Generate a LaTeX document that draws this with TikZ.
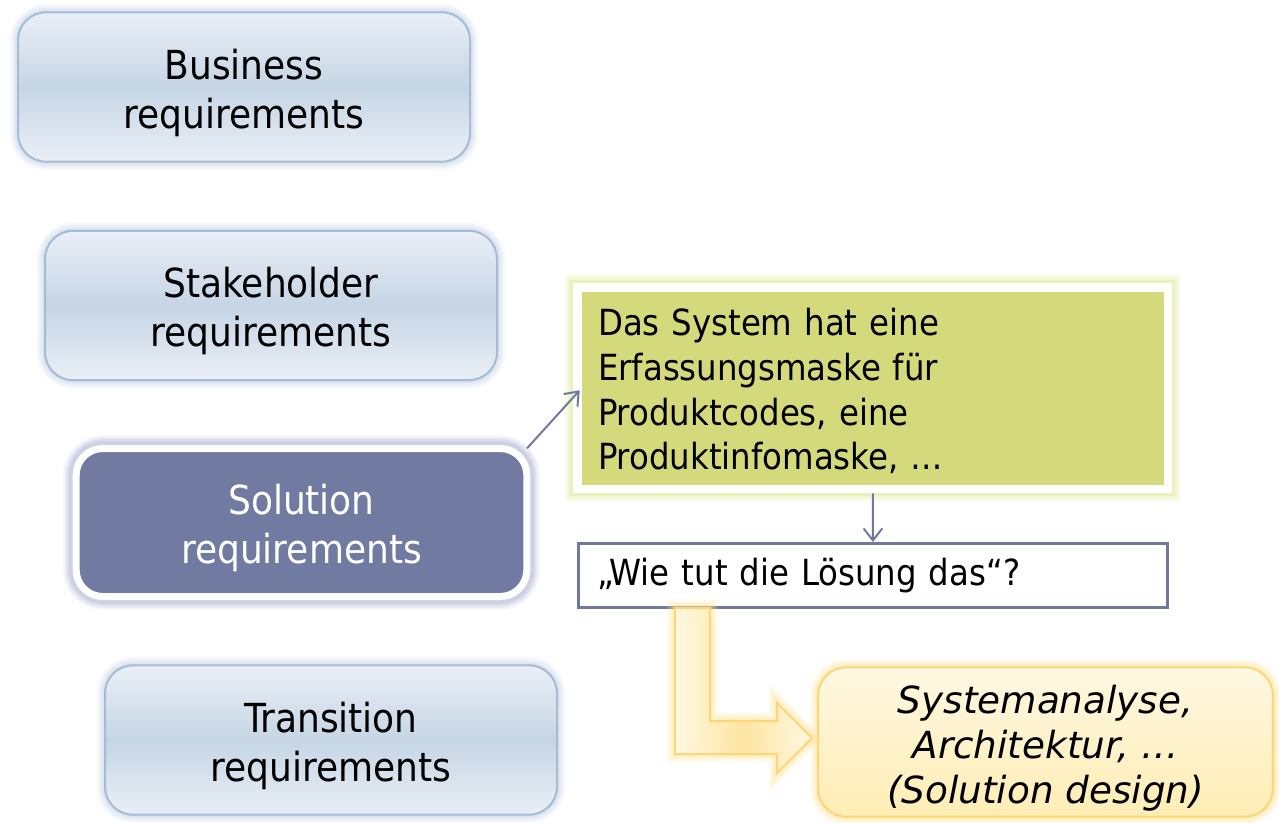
\documentclass[tikz,border=0pt]{standalone}
\usepackage{fontspec}
\setmainfont{DejaVu Sans Condensed}
\newfontfamily\verd{DejaVu Sans}
\usetikzlibrary{arrows.meta}
\definecolor{bluelt}{HTML}{EAEFF6}
\definecolor{bluemid}{HTML}{C6D5E5}
\definecolor{bluebd}{HTML}{A4BCD5}
\definecolor{blueglow}{HTML}{BCCEE2}
\definecolor{solfill}{HTML}{717AA1}
\definecolor{solglow}{HTML}{A4AACC}
\definecolor{greenfill}{HTML}{D4D97C}
\definecolor{greenglow}{HTML}{DCE68A}
\definecolor{wiebd}{HTML}{6F78A0}
\definecolor{ylt}{HTML}{FFF8E2}
\definecolor{ymid}{HTML}{FEEDB4}
\definecolor{yarr}{HTML}{FDE5A0}
\definecolor{ybd}{HTML}{FCD77A}
\definecolor{yglow}{HTML}{FCDF8C}
\newcommand{\lowstrut}{\rule{0pt}{31pt}}
\begin{document}
\begin{tikzpicture}[x=0.75pt,y=-0.75pt,
  glow/.style={preaction={draw=#1,line width=13pt,opacity=0.1},
               preaction={draw=#1,line width=10pt,opacity=0.15},
               preaction={draw=#1,line width=7pt,opacity=0.2},
               preaction={draw=#1,line width=4pt,opacity=0.25}},
  bigglow/.style={preaction={draw=#1,line width=20pt,opacity=0.1},
               preaction={draw=#1,line width=17pt,opacity=0.15},
               preaction={draw=#1,line width=14pt,opacity=0.2},
               preaction={draw=#1,line width=11pt,opacity=0.25}},
  reqbox/.style={glow=blueglow,draw=bluebd,line width=1.5pt,rounded corners=21pt,
    top color=bluelt,bottom color=bluelt,middle color=bluemid,
    minimum width=339pt,minimum height=112pt,inner sep=0pt,align=center,
    font=\fontsize{30pt}{36.75pt}\selectfont},
  solbox/.style={bigglow=solglow,draw=white,line width=5.25pt,rounded corners=20pt,
    fill=solfill,text=white,minimum width=338pt,minimum height=111pt,inner sep=0pt,
    align=center,font=\fontsize{30pt}{36.75pt}\selectfont},
  sysbox/.style={bigglow=greenglow,draw=white,line width=6.5pt,fill=greenfill,
    minimum width=443pt,minimum height=151pt,inner sep=0pt,
    text width=412pt,align=left,font=\fontsize{27pt}{33.5pt}\selectfont},
  wiebox/.style={draw=wiebd,line width=2.2pt,fill=white,
    minimum width=442pt,minimum height=48pt,inner sep=0pt,
    text width=413.5pt,align=left,font=\fontsize{27pt}{33pt}\selectfont},
  desbox/.style={glow=yglow,draw=ybd,line width=1.5pt,rounded corners=21pt,
    top color=ylt,bottom color=ymid,
    minimum width=341pt,minimum height=112pt,inner sep=0pt,align=center,
    font=\verd\itshape\fontsize{28pt}{33.75pt}\selectfont},
  conn/.style={draw=wiebd,line width=1.5pt,-{Straight Barb[length=9pt,width=14pt,line width=1.5pt]}},
  bent/.style={glow=yglow,draw=ybd,line width=1.5pt,left color=ylt,right color=ylt,middle color=yarr,line join=miter}
]
\useasboundingbox (0,0) rectangle (1279,822);

\node[reqbox] (bus) at (244,87) {\lowstrut Business\\requirements};
\node[reqbox] (stk) at (271,305.5) {\lowstrut Stakeholder\\requirements};
\node[solbox] (sol) at (301.5,522.5) {\lowstrut Solution\\requirements};
\node[reqbox] (tra) at (331,740) {\lowstrut Transition\\requirements};

\node[sysbox] (sys) at (872.75,388.25) {\rule{0pt}{25pt}Das System hat eine\\Erfassungsmaske f\"ur\\Produktcodes, eine\\Produktinfomaske, \dots};
\node[wiebox] (wie) at (873,575.5) {„Wie tut die Lösung das“?};
\node[desbox] (des) at (1045.5,742) {\rule{0pt}{30pt}Systemanalyse,\\Architektur, \dots\\(Solution design)};

\draw[conn] ([xshift=-2.5pt,yshift=-2.5pt]sol.north east) -- ([xshift=5pt,yshift=-1.5pt]sys.west);
\draw[conn] (sys.south) -- (wie.north);

\draw[bent] (675,608) -- (710,608) -- (710,721) -- (777,721) -- (777,703)
  -- (812,738) -- (777,773) -- (777,754) -- (675,754) -- cycle;
\end{tikzpicture}
\end{document}
